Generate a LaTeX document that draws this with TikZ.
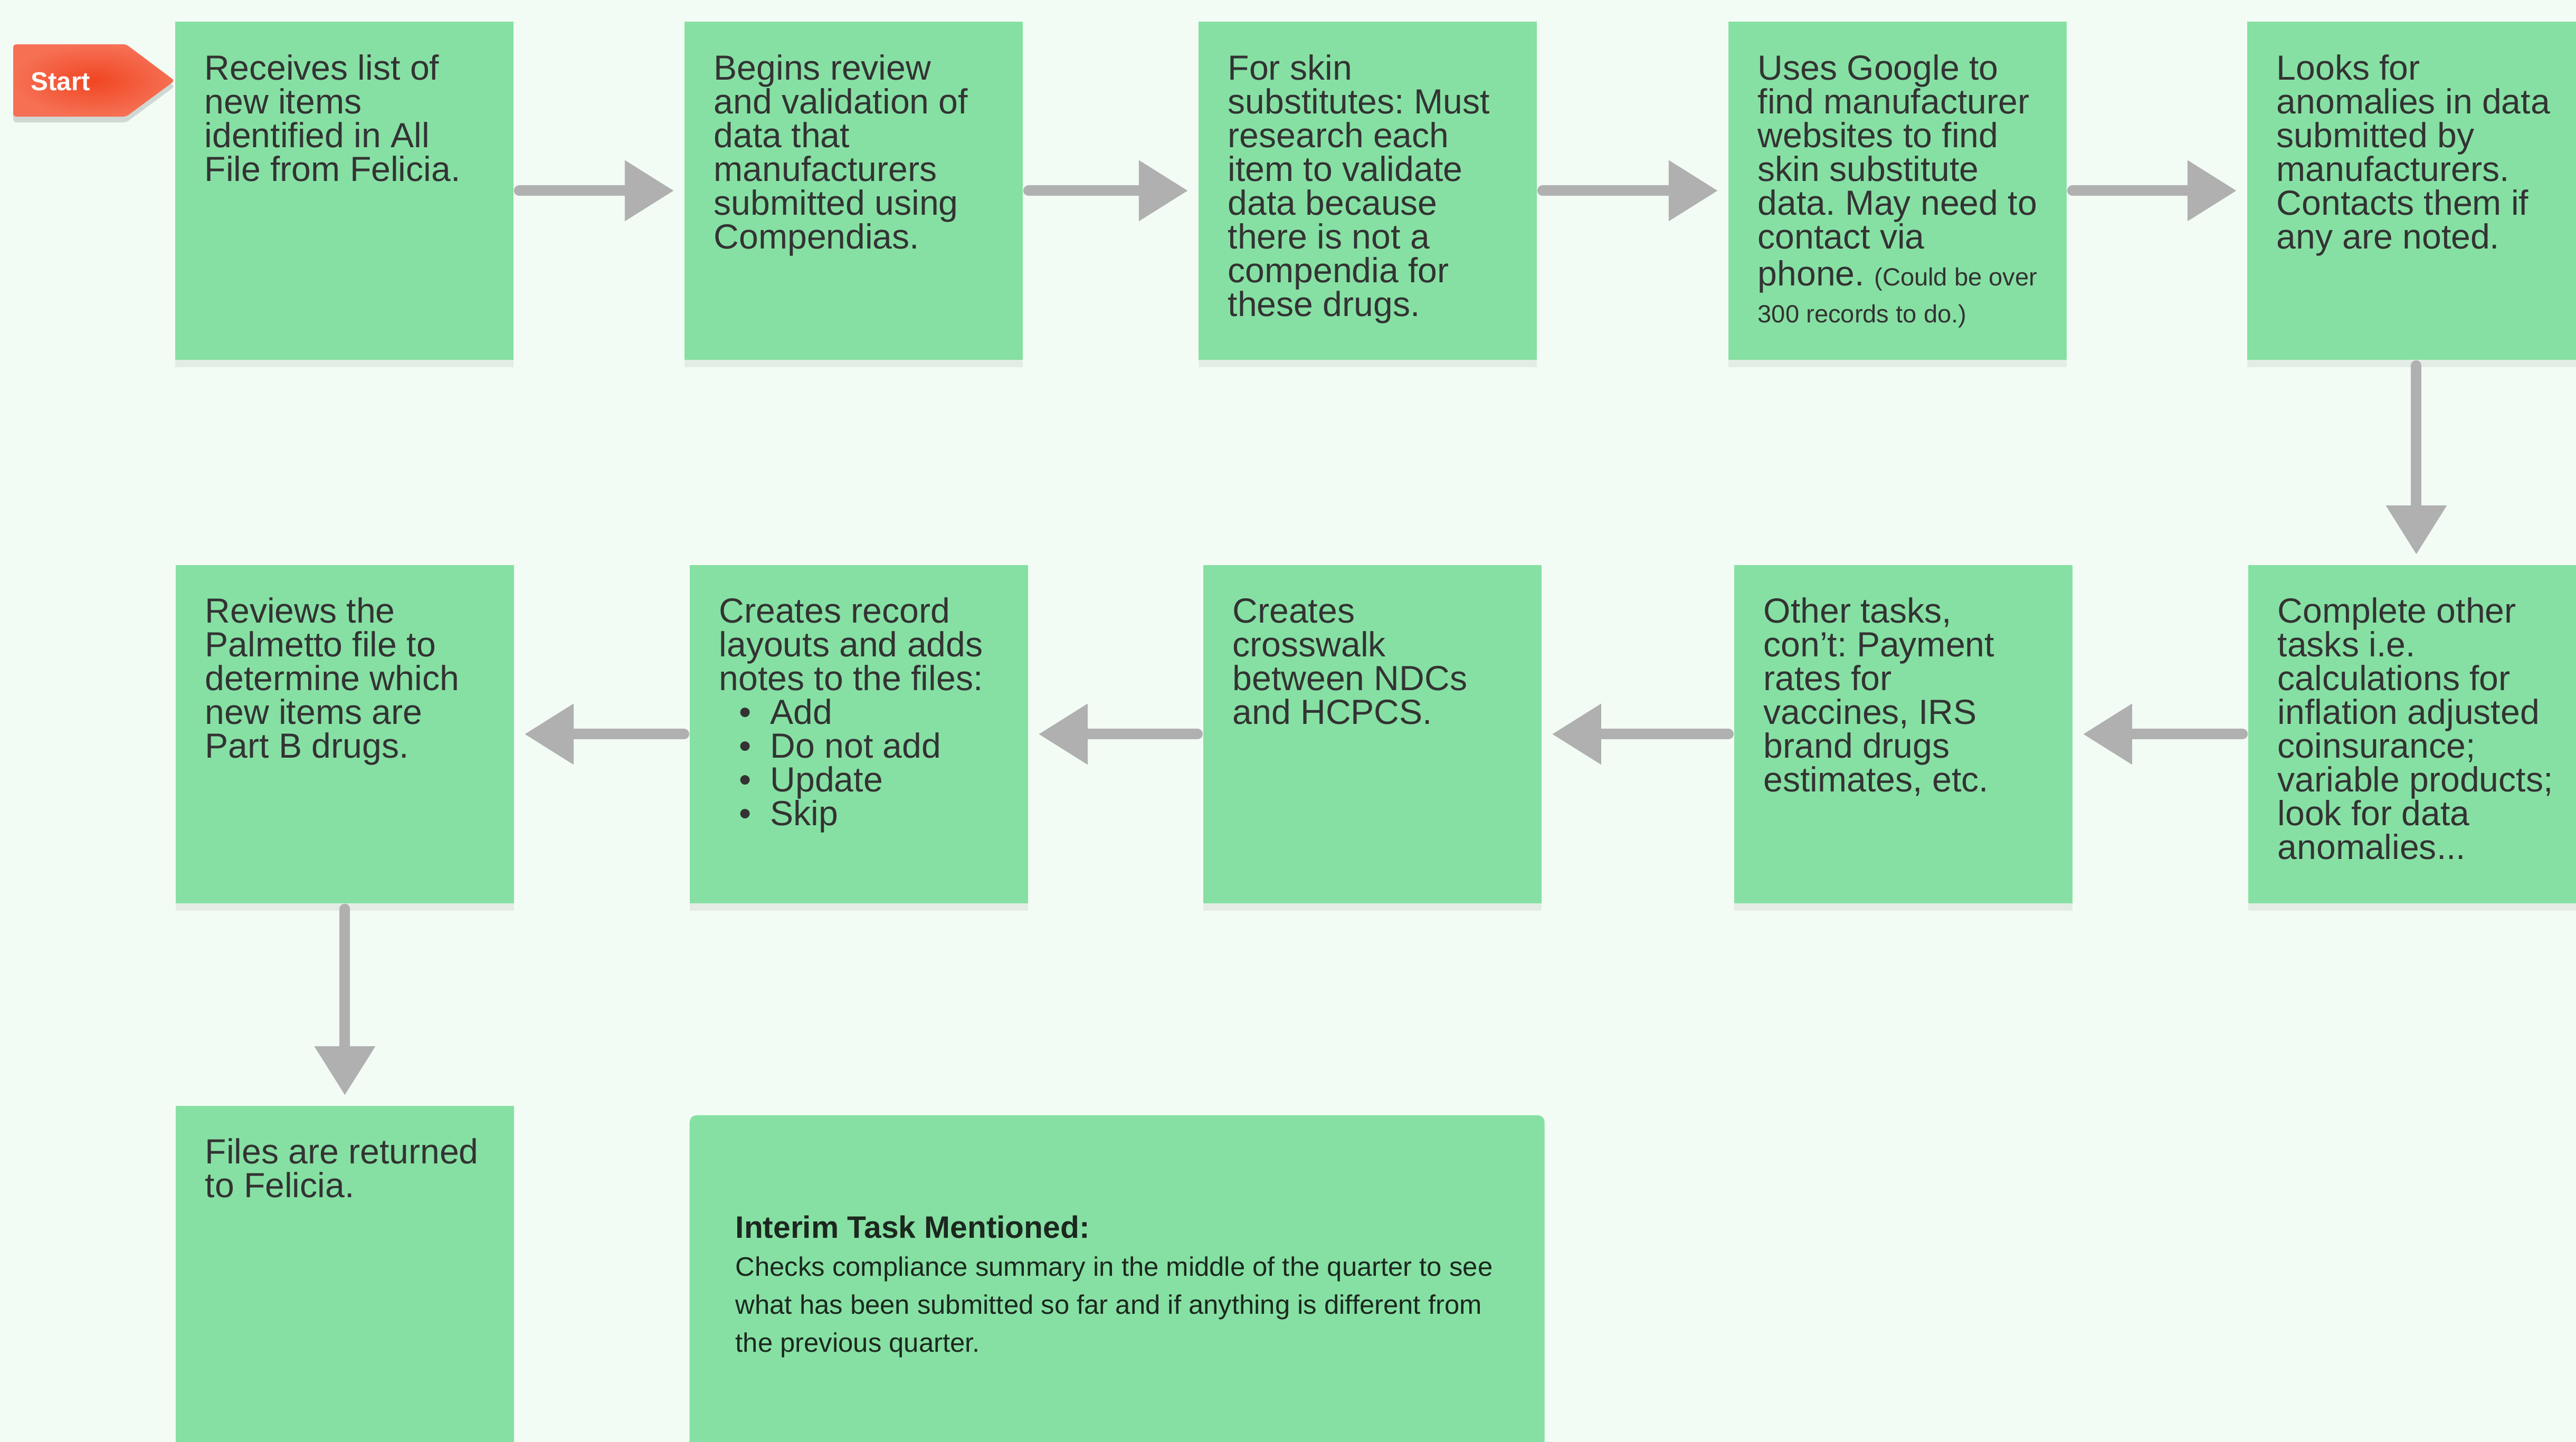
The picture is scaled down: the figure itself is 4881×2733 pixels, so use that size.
\documentclass[tikz,border=0pt]{standalone}
\usepackage{fontspec}
\setmainfont{Liberation Sans}
\usetikzlibrary{arrows.meta, shadows}
\frenchspacing

\definecolor{bgmint}{RGB}{242,252,244}
\definecolor{stickygreen}{RGB}{134,224,163}
\definecolor{notegray}{RGB}{51,51,51}
\definecolor{darknote}{RGB}{28,40,31}
\definecolor{arrowgray}{RGB}{176,176,176}
\definecolor{startred}{RGB}{240,70,34}
\definecolor{startedge}{RGB}{246,112,84}
\definecolor{tagshadow}{RGB}{207,216,210}

\newcommand{\stickylines}[1]{\parbox[t]{6cm}{\raggedright #1}}

\begin{document}
\begin{tikzpicture}[x=0.01cm, y=-0.01cm,
  sticky/.style={fill=stickygreen, minimum width=6.41cm, minimum height=6.41cm, inner sep=0pt, anchor=north west,
    drop shadow={shadow xshift=0cm, shadow yshift=-0.14cm, fill=black, opacity=0.06}},
  note/.style={anchor=base west, inner sep=0pt, text=notegray, font=\fontsize{18.8}{18.2}\selectfont},
  flow/.style={draw=arrowgray, line width=0.2cm, line cap=round, shorten <=0.1cm, shorten >=0.19cm,
    -{Triangle[length=0.93cm, width=1.1cm]}}]

\useasboundingbox (0,0) rectangle (4881,2733);
\fill[bgmint] (0,0) rectangle (4881,2733);
\clip (0,0) rectangle (4881,2733);

% Start tag
\fill[tagshadow, rounded corners=0.06cm] (25,95) -- (239,95) -- (331,164) -- (239,232) -- (25,232) -- cycle;
\shade[inner color=startred, outer color=startedge, rounded corners=0.06cm] (25,84) -- (239,84) -- (331,153) -- (239,221) -- (25,221) -- cycle;
\node[anchor=base west, inner sep=0pt, text=white, font=\bfseries\fontsize{14}{14}\selectfont] (start) at (58,171) {Start};

% Sticky notes
\foreach \name/\x in {b1/331, b2/1296, b3/2270, b4/3274, b5/4257}
  \node[sticky] (\name) at (\x,40) {};
\foreach \name/\x in {c1/332, c2/1306, c3/2279, c4/3285, c5/4259}
  \node[sticky] (\name) at (\x,1070) {};
\node[sticky] (d1) at (332,2095) {};
\node[sticky, minimum width=16.19cm, minimum height=7cm, rounded corners=0.13cm] (task) at (1306,2113) {};

% Row 1
\node[note] (tb1) at ([shift={(56,111)}]b1.north west) {\stickylines{Receives list of\\new items\\identified in All\\File from Felicia.}};
\node[note] (tb2) at ([shift={(56,111)}]b2.north west) {\stickylines{Begins review\\and validation of\\data that\\manufacturers\\submitted using\\Compendias.}};
\node[note] (tb3) at ([shift={(56,111)}]b3.north west) {\stickylines{For skin\\substitutes: Must\\research each\\item to validate\\data because\\there is not a\\compendia for\\these drugs.}};
\node[note] (tb4) at ([shift={(56,111)}]b4.north west) {\stickylines{Uses Google to\\find manufacturer\\websites to find\\skin substitute\\data. May need to\\contact via\\[0.06cm]phone. {\fontsize{13.4}{18.2}\selectfont (Could be over\\[0.06cm]300 records to do.)}}};
\node[note] (tb5) at ([shift={(56,111)}]b5.north west) {\stickylines{Looks for\\anomalies in data\\submitted by\\manufacturers.\\Contacts them if\\any are noted.}};

% Row 2
\node[note] (tc1) at ([shift={(56,110)}]c1.north west) {\stickylines{Reviews the\\Palmetto file to\\determine which\\new items are\\Part B drugs.}};
\node[note] (tc2) at ([shift={(56,110)}]c2.north west) {\stickylines{Creates record\\layouts and adds\\notes to the files:\\
  \hspace*{0.38cm}\makebox[0.59cm][l]{\textbullet}Add\\
  \hspace*{0.38cm}\makebox[0.59cm][l]{\textbullet}Do not add\\
  \hspace*{0.38cm}\makebox[0.59cm][l]{\textbullet}Update\\
  \hspace*{0.38cm}\makebox[0.59cm][l]{\textbullet}Skip}};
\node[note] (tc3) at ([shift={(56,110)}]c3.north west) {\stickylines{Creates\\crosswalk\\between NDCs\\and HCPCS.}};
\node[note] (tc4) at ([shift={(56,110)}]c4.north west) {\stickylines{Other tasks,\\con’t: Payment\\rates for\\vaccines, IRS\\brand drugs\\estimates, etc.}};
\node[note] (tc5) at ([shift={(56,110)}]c5.north west) {\stickylines{Complete other\\tasks i.e.\\calculations for\\inflation adjusted\\coinsurance;\\variable products;\\look for data\\anomalies...}};

% Row 3
\node[note] (td1) at ([shift={(56,110)}]d1.north west) {\stickylines{Files are returned\\to Felicia.}};
\node[note, text=darknote, font=\fontsize{14.45}{20.5}\selectfont] (ttask) at ([shift={(87,233)}]task.north west)
  {\parbox[t]{15cm}{\raggedright{\bfseries\fontsize{16.7}{20.5}\selectfont Interim Task Mentioned:}\\
  Checks compliance summary in the middle of the quarter to see\\
  what has been submitted so far and if anything is different from\\
  the previous quarter.}};

% Connectors
\foreach \n [remember=\n as \last (initially b1)] in {b2,b3,b4,b5}
  \draw[flow] (\last.east) -- (\n.west);
\draw[flow] (b5.south) -- (b5.south |- c5.north);
\foreach \n [remember=\n as \last (initially c5)] in {c4,c3,c2,c1}
  \draw[flow] (\last.west) -- (\n.east);
\draw[flow] (c1.south) -- (d1.north);

\end{tikzpicture}
\end{document}
